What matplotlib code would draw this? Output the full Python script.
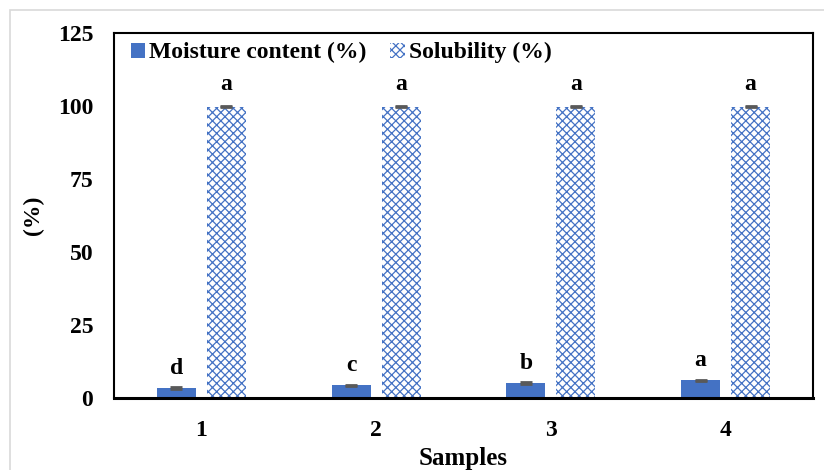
import matplotlib.pyplot as plt
import numpy as np
from matplotlib.patches import Rectangle

# data
samples = ['1', '2', '3', '4']
moisture = [3.5, 4.3, 5.2, 6.0]
moisture_err = [0.3, 0.3, 0.3, 0.3]
moisture_letters = ['d', 'c', 'b', 'a']
solubility = [99.8, 99.8, 99.8, 99.8]
solubility_err = [0.3, 0.3, 0.3, 0.3]
solubility_letters = ['a', 'a', 'a', 'a']

blue = '#4472C4'
plt.rcParams['font.family'] = ['Liberation Serif', 'DejaVu Serif']
plt.rcParams['font.weight'] = 'bold'
plt.rcParams['hatch.linewidth'] = 0.9

fig = plt.figure(figsize=(8.24, 4.70), dpi=100)
# light gray outer frame (only top/left visible in the crop)
fig.patches.append(Rectangle((10 / 824, -0.1), 1.2, (460 / 470) + 0.1,
                             transform=fig.transFigure, fill=False,
                             edgecolor='#d9d9d9', linewidth=1.2))
ax = fig.add_axes((114 / 824, 72 / 470, 699 / 824, 365 / 470))

x = np.arange(len(samples))
w = 0.223
off = 0.143
err_kw = dict(ecolor='#595959', capsize=4.5, capthick=2, elinewidth=0)

ax.bar(x - off, moisture, w, color=blue, yerr=moisture_err,
       error_kw=err_kw, label='Moisture content (%)', zorder=2)
ax.bar(x + off, solubility, w, color='white', edgecolor=blue, linewidth=0,
       hatch='xxxx', yerr=solubility_err, error_kw=err_kw,
       label='Solubility (%)', zorder=2)

for i in range(len(samples)):
    ax.annotate(moisture_letters[i], (x[i] - off, moisture[i] + moisture_err[i]),
                xytext=(0, 6), textcoords='offset points', ha='center',
                va='bottom', fontsize=17, fontweight='bold')
    ax.annotate(solubility_letters[i], (x[i] + off, solubility[i] + solubility_err[i]),
                xytext=(0, 8), textcoords='offset points', ha='center',
                va='bottom', fontsize=17, fontweight='bold')

ax.set_xlim(-0.5, 3.5)
ax.set_ylim(0, 125)
ax.set_yticks([0, 25, 50, 75, 100, 125])
ax.set_xticks(x)
ax.set_xticklabels(samples)
ax.tick_params(axis='both', length=0, labelsize=17)
ax.tick_params(axis='y', pad=15)
ax.tick_params(axis='x', pad=16)
for s in ax.spines.values():
    s.set_linewidth(1.5)
ax.spines['bottom'].set_linewidth(2.2)

ax.set_xlabel('Samples', fontsize=18, fontweight='bold', labelpad=4)
ax.set_ylabel('(%)', fontsize=17, fontweight='bold', labelpad=10)

ax.legend(loc='upper left', bbox_to_anchor=(0.0, 1.02), ncol=2, frameon=False,
          fontsize=17, handlelength=0.6, handleheight=0.6, handletextpad=0.2,
          columnspacing=1.0, borderaxespad=0.3)

fig.savefig('out.png', dpi=100)
